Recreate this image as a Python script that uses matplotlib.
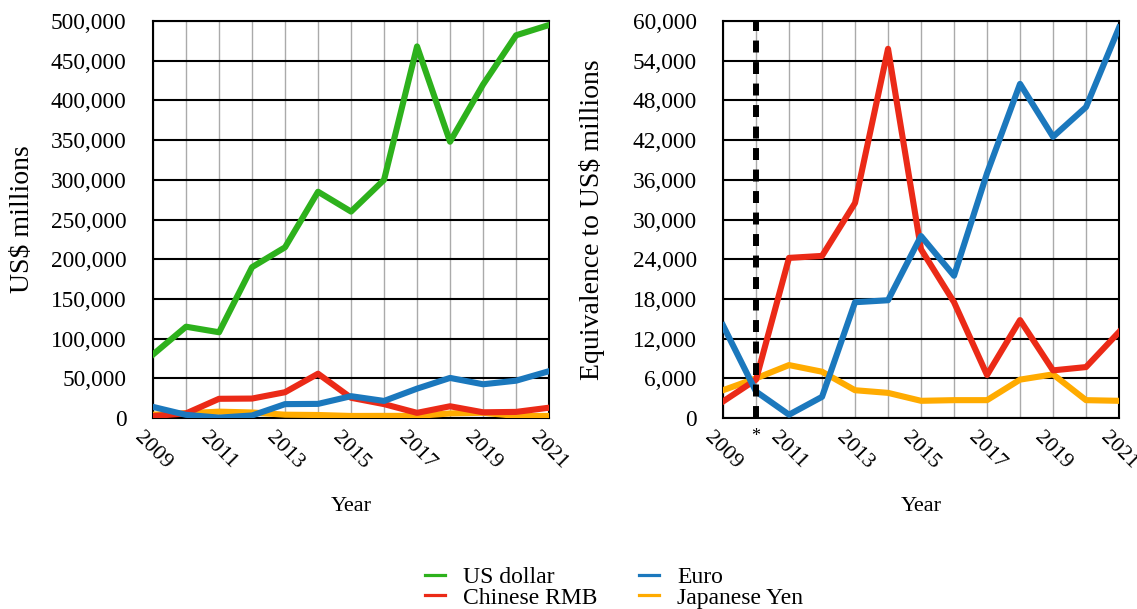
import matplotlib
matplotlib.use("Agg")
import matplotlib.pyplot as plt
from matplotlib.ticker import FuncFormatter

plt.rcParams["font.family"] = ["Liberation Serif", "DejaVu Serif"]

years = list(range(2009, 2022))
usd = [80000, 115000, 108000, 190000, 215000, 285000, 260000, 300000, 468000,
       348000, 420000, 482000, 495000]
rmb = [2500, 5800, 24200, 24500, 32500, 55800, 25500, 17500, 6500, 14800, 7200,
       7700, 13000]
eur = [14000, 4000, 500, 3200, 17500, 17800, 27500, 21500, 37000, 50500, 42500,
       47000, 59000]
jpy = [4200, 6000, 8000, 7000, 4200, 3800, 2600, 2700, 2700, 5800, 6600, 2700, 2600]

C_USD, C_RMB, C_EUR, C_JPY = "#2db11c", "#eb2a17", "#1b78bd", "#ffab00"
LW = 4.4

fig = plt.figure(figsize=(11.37, 6.09), dpi=100)
ax1 = fig.add_axes([0.1346, 0.3136, 0.3483, 0.6519])
ax2 = fig.add_axes([0.6359, 0.3136, 0.3483, 0.6519])

fmt = FuncFormatter(lambda v, p: f"{int(v):,}")


def style(ax, ymax, step, labels):
    ax.set_xlim(2009, 2021)
    ax.set_ylim(0, ymax)
    ax.set_yticks(range(0, ymax + 1, step))
    ax.yaxis.set_major_formatter(fmt)
    ax.set_xticks(years)
    ax.set_xticklabels(labels, rotation=-45, ha="center", va="top")
    ax.tick_params(axis="y", length=0, labelsize=16.8, pad=19)
    ax.tick_params(axis="x", length=0, labelsize=16, pad=7)
    for y in range(0, ymax + 1, step):
        ax.axhline(y, color="black", lw=1.5, zorder=1)
    for x in years:
        ax.axvline(x, color="#aaaaaa", lw=1.0, zorder=0.5)
    for s in ax.spines.values():
        s.set_linewidth(1.5)
    ax.set_xlabel("Year", fontsize=16)
    ax.xaxis.set_label_coords(0.5, -0.2)


left_labels = [str(y) if y % 2 == 1 else "" for y in years]
for ax in (ax1, ax2):
    ax.plot(years, jpy, color=C_JPY, lw=LW, zorder=3, label="Japanese Yen")
    ax.plot(years, rmb, color=C_RMB, lw=LW, zorder=3, label="Chinese RMB")
    ax.plot(years, eur, color=C_EUR, lw=LW, zorder=3, label="Euro")
ax1.plot(years, usd, color=C_USD, lw=LW, zorder=3, label="US dollar")

style(ax1, 500000, 50000, left_labels)
ax1.set_ylabel(r"US\$ millions", fontsize=20)
ax1.yaxis.set_label_coords(-0.298, 0.5)

right_labels = [("*" if y == 2010 else s) for y, s in zip(years, left_labels)]
style(ax2, 60000, 6000, right_labels)
star = ax2.get_xticklabels()[1]
star.set_rotation(0)
star.set_fontsize(13)
ax2.axvline(2010, color="black", lw=4.3, ls=(0, (2.0, 1.6)), zorder=4)
ax2.set_ylabel(r"Equivalence to US\$ millions", fontsize=20)
ax2.yaxis.set_label_coords(-0.298, 0.5)

h, l = ax1.get_legend_handles_labels()
order = ["US dollar", "Chinese RMB", "Euro", "Japanese Yen"]
hs = [h[l.index(n)] for n in order]
leg = fig.legend(hs, order, loc="center", bbox_to_anchor=(0.54, 0.035), ncol=2,
                 frameon=False, fontsize=17, handlelength=0.85, columnspacing=1.8,
                 handletextpad=0.76, labelspacing=-0.05)
for ln in leg.get_lines():
    ln.set_linewidth(2.3)

fig.savefig("out.png", dpi=100, facecolor="white")
